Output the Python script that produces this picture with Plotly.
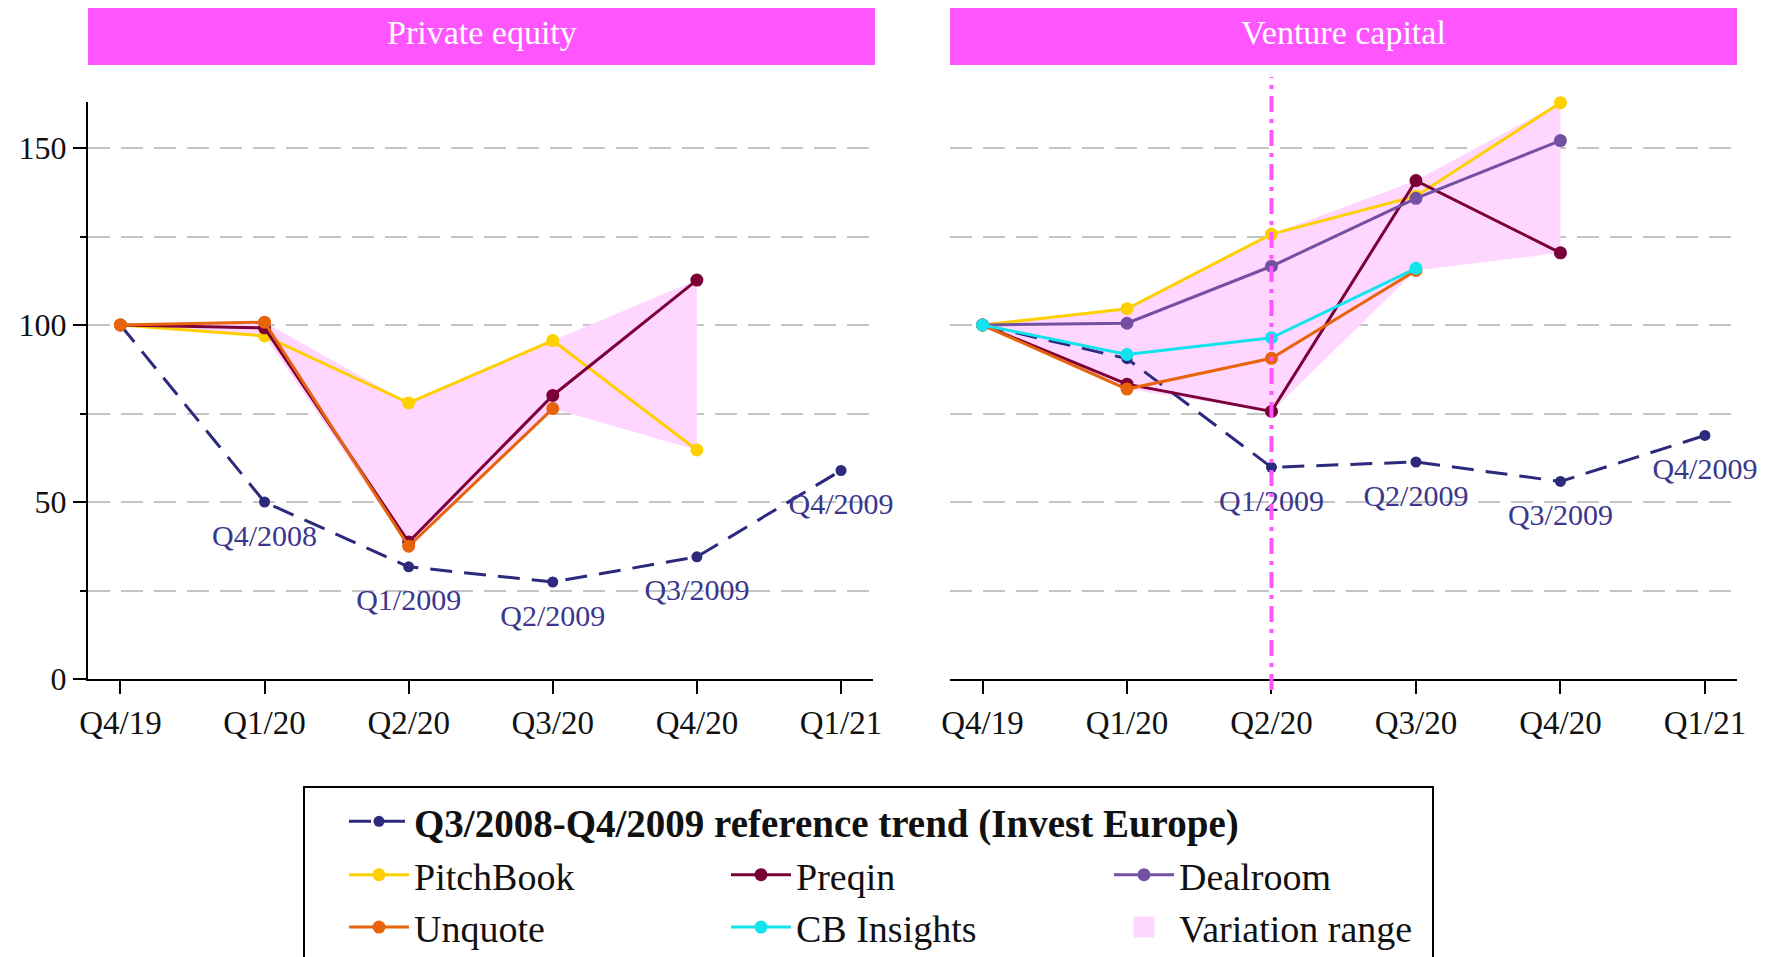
import plotly.graph_objects as go

# ---------------- data ----------------
quarters = ["Q4/19", "Q1/20", "Q2/20", "Q3/20", "Q4/20", "Q1/21"]
y_ticks = [0, 50, 100, 150]

# Private equity panel
pe_reference = [100, 50, 31.7, 27.4, 34.5, 58.9]
pe_reference_labels = ["", "Q4/2008", "Q1/2009", "Q2/2009", "Q3/2009", "Q4/2009"]
pe_pitchbook = [100, 96.9, 78, 95.6, 64.7, None]
pe_preqin = [100, 99.2, 38.7, 80.1, 112.7, None]
pe_unquote = [100, 100.8, 37.5, 76.4, None, None]

# Venture capital panel
vc_reference = [100, 90.5, 59.8, 61.3, 55.8, 68.8]
vc_reference_labels = ["", "", "Q1/2009", "Q2/2009", "Q3/2009", "Q4/2009"]
vc_pitchbook = [100, 104.6, 125.7, 136.4, 162.8, None]
vc_preqin = [100, 83.3, 75.6, 140.8, 120.4, None]
vc_dealroom = [100, 100.5, 116.6, 135.8, 152.1, None]
vc_unquote = [100, 81.9, 90.6, 115.4, None, None]
vc_cbinsights = [100, 91.7, 96.4, 116.0, None, None]

panel_titles = ["Private equity", "Venture capital"]
reference_name = "Q3/2008-Q4/2009 reference trend (Invest Europe)"
range_name = "Variation range"
marked_quarter = "Q2/20"

# ---------------- styles ----------------
FONT = "Liberation Serif, Times New Roman, serif"
colors = {
    "reference": "#2C2A7C",
    "reference_text": "#3A378C",
    "PitchBook": "#FFD000",
    "Preqin": "#7C0038",
    "Dealroom": "#7350A2",
    "Unquote": "#E8640C",
    "CB Insights": "#12E3EC",
    "range": "#FFD6FF",
    "header": "#FF55FF",
    "grid": "#C4C4C4",
}
legend_of = {
    "reference": "legend",
    "PitchBook": "legend2", "Unquote": "legend2",
    "Preqin": "legend3", "CB Insights": "legend3",
    "Dealroom": "legend4", "range": "legend4",
}
rank_of = {"PitchBook": 1, "Unquote": 2, "Preqin": 1, "CB Insights": 2,
           "Dealroom": 1, "range": 2, "reference": 1}

W, H = 1778, 957
x_dom = [[88 / W, 873 / W], [950 / W, 1737 / W]]
y_dom = [1 - 679 / H, 1 - 102 / H]

panels = [
    dict(xa="x", ya="y", ref=pe_reference, ref_labels=pe_reference_labels,
         series=[("PitchBook", pe_pitchbook), ("Preqin", pe_preqin), ("Unquote", pe_unquote)]),
    dict(xa="x2", ya="y2", ref=vc_reference, ref_labels=vc_reference_labels,
         series=[("PitchBook", vc_pitchbook), ("Preqin", vc_preqin), ("Dealroom", vc_dealroom),
                 ("Unquote", vc_unquote), ("CB Insights", vc_cbinsights)]),
]

fig = go.Figure()
shown = set()

for p in panels:
    # variation range envelope (min / max of the panel's sources)
    idx_up, upper, lower = [], [], []
    for i, q in enumerate(quarters):
        vals = [s[i] for _, s in p["series"] if s[i] is not None]
        if vals:
            idx_up.append(q)
            upper.append(max(vals))
            lower.append(min(vals))
    fig.add_trace(go.Scatter(
        x=idx_up + idx_up[::-1], y=upper + lower[::-1],
        fill="toself", fillcolor=colors["range"], mode="lines",
        line=dict(width=0, color=colors["range"]),
        name=range_name, legendgroup="range", showlegend=False, hoverinfo="skip",
        xaxis=p["xa"], yaxis=p["ya"]))

    # reference trend
    fig.add_trace(go.Scatter(
        x=quarters, y=p["ref"], mode="lines+markers",
        line=dict(color=colors["reference"], width=3, dash="22px,12px"),
        marker=dict(color=colors["reference"], size=11),
        name="<b>" + reference_name + "</b>", legendgroup="reference",
        legend=legend_of["reference"], legendrank=rank_of["reference"],
        showlegend="reference" not in shown, cliponaxis=False,
        xaxis=p["xa"], yaxis=p["ya"]))
    # period labels of the reference trend
    fig.add_trace(go.Scatter(
        x=quarters, y=p["ref"], mode="markers+text",
        text=p["ref_labels"], textposition="bottom center",
        textfont=dict(family=FONT, size=30, color=colors["reference_text"]),
        marker=dict(size=32, color="rgba(0,0,0,0)"),
        legendgroup="reference", showlegend=False, hoverinfo="skip", cliponaxis=False,
        xaxis=p["xa"], yaxis=p["ya"]))
    shown.add("reference")

    for name, vals in p["series"]:
        fig.add_trace(go.Scatter(
            x=quarters, y=vals, mode="lines+markers",
            line=dict(color=colors[name], width=3),
            marker=dict(color=colors[name], size=13),
            name=name, legendgroup=name, legend=legend_of[name],
            legendrank=rank_of[name],
            showlegend=name not in shown, cliponaxis=False,
            xaxis=p["xa"], yaxis=p["ya"]))
        shown.add(name)

# legend key for the shaded variation range
fig.add_trace(go.Scatter(
    x=[None], y=[None], mode="markers", name=range_name, legendgroup="range",
    legend=legend_of["range"], legendrank=rank_of["range"],
    marker=dict(symbol="square", size=16, color=colors["range"],
                line=dict(width=5, color=colors["range"])),
    xaxis="x2", yaxis="y2"))

axis_font_x = dict(family=FONT, size=33, color="#111111")
axis_font_y = dict(family=FONT, size=32, color="#111111")
xcommon = dict(type="category", categoryorder="array", categoryarray=quarters,
               range=[-0.225, 5.222], showline=True, linecolor="black", linewidth=2,
               ticks="outside", ticklen=13, tickwidth=2, tickcolor="black",
               tickfont=axis_font_x, showgrid=False, zeroline=False, fixedrange=True)
grid = dict(showgrid=True, gridcolor=colors["grid"], gridwidth=2, griddash="22px,11px")
ycommon = dict(range=[0, 163], tickvals=y_ticks, zeroline=False, fixedrange=True, **grid)

leg_common = dict(xanchor="left", yanchor="top", bgcolor="rgba(0,0,0,0)", borderwidth=0,
                  tracegroupgap=0, itemwidth=60)
leg_font = dict(family=FONT, size=38, color="#111111")

fig.update_layout(
    width=W, height=H, margin=dict(l=0, r=0, t=0, b=0, autoexpand=False),
    paper_bgcolor="white", plot_bgcolor="white",
    font=dict(family=FONT, color="#111111"),
    xaxis=dict(domain=x_dom[0], anchor="y", **xcommon),
    xaxis2=dict(domain=x_dom[1], anchor="y2", **xcommon),
    yaxis=dict(domain=y_dom, anchor="x", showline=True, linecolor="black", linewidth=2,
               ticks="outside", ticklen=13, tickwidth=2, tickcolor="black",
               tickfont=axis_font_y, **ycommon,
               minor=dict(dtick=25, ticks="outside", ticklen=6, tickwidth=1.5,
                          tickcolor="black", **grid)),
    yaxis2=dict(domain=y_dom, anchor="x2", showline=False, ticks="", showticklabels=False,
                **ycommon, minor=dict(dtick=25, **grid)),
    legend=dict(x=344 / W, y=1 - 789.5 / H, font=dict(family=FONT, size=39, color="#111111"),
                **leg_common),
    legend2=dict(x=344 / W, y=1 - 843.5 / H, font=leg_font, **leg_common),
    legend3=dict(x=726 / W, y=1 - 843.5 / H, font=leg_font, **leg_common),
    legend4=dict(x=1109 / W, y=1 - 843.5 / H, font=leg_font, **leg_common),
)

shapes = []
annotations = []
header_x = [[88 / W, 875 / W], [950 / W, 1737 / W]]
for (x0, x1), title in zip(header_x, panel_titles):
    shapes.append(dict(type="rect", xref="paper", yref="paper", x0=x0, x1=x1,
                       y0=1 - 65 / H, y1=1 - 8 / H, fillcolor=colors["header"],
                       line=dict(width=0), layer="above"))
    annotations.append(dict(xref="paper", yref="paper", x=(x0 + x1) / 2, y=1 - 33 / H,
                            text=title, showarrow=False, xanchor="center", yanchor="middle",
                            font=dict(family=FONT, size=34, color="white")))

# vertical marker in the venture capital panel
shapes.append(dict(type="line", xref="x2", yref="paper",
                   x0=quarters.index(marked_quarter), x1=quarters.index(marked_quarter),
                   y0=1 - 690 / H, y1=1 - 77 / H,
                   line=dict(color="#FF55FF", width=4, dash="16px,7px,4px,7px"), layer="above"))

# legend frame
shapes.append(dict(type="rect", xref="paper", yref="paper", x0=304 / W, x1=1433 / W,
                   y0=-0.05, y1=1 - 787 / H, line=dict(color="black", width=2),
                   fillcolor="rgba(0,0,0,0)", layer="above"))

fig.update_layout(shapes=shapes, annotations=annotations)
fig.write_html("out.html", config={"displayModeBar": False},
               post_script="document.body.style.margin='0px';")
